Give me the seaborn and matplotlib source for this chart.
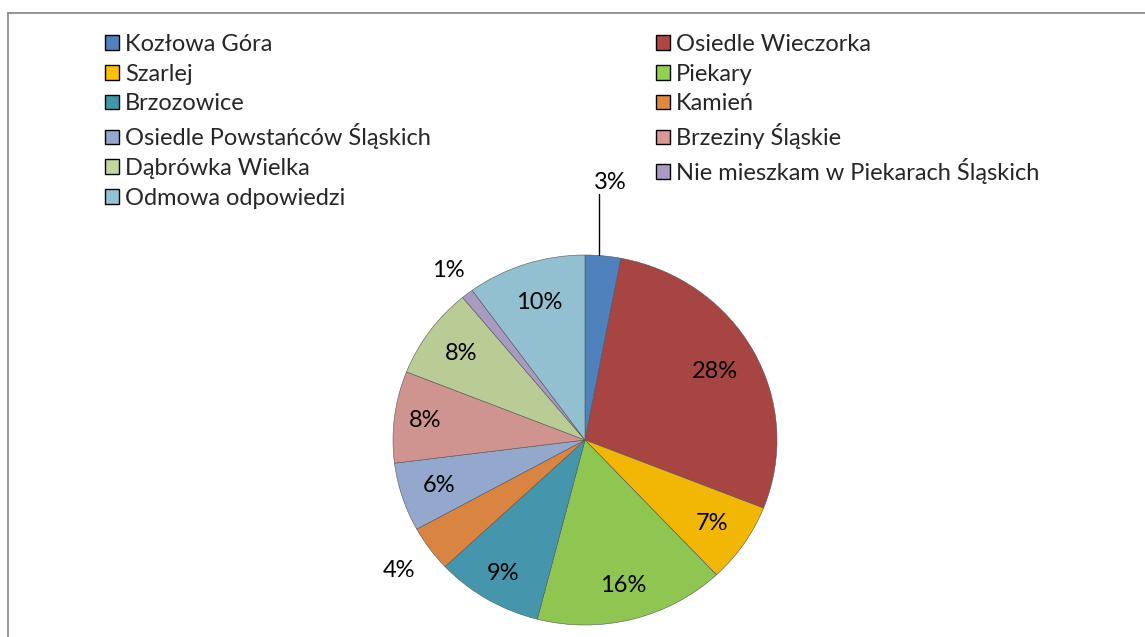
import numpy as np
import matplotlib
matplotlib.use("Agg")
import matplotlib.pyplot as plt
import seaborn as sns
from matplotlib.patches import Patch
from matplotlib.lines import Line2D

categories = ["Kozłowa Góra", "Osiedle Wieczorka", "Szarlej", "Piekary",
              "Brzozowice", "Kamień", "Osiedle Powstańców Śląskich",
              "Brzeziny Śląskie", "Dąbrówka Wielka",
              "Nie mieszkam w Piekarach Śląskich", "Odmowa odpowiedzi"]
shares = [3, 28, 7, 16, 9, 4, 6, 8, 8, 1, 10]
colors = ["#4F81BD", "#A64541", "#F2B705", "#8EC651", "#4596AC", "#D98440",
          "#93A8CC", "#CF9390", "#B9CC96", "#A89BC0", "#92C0D0"]
legend_colors = ["#4F81BD", "#B04545", "#FFC000", "#92D050", "#3F97AB", "#E08A3E",
                 "#93A8CC", "#D99694", "#C3D69B", "#A99BC4", "#93C4D4"]
# label distance (in radii) for each slice; small ones go outside
label_dist = [1.4, 0.77, 0.8, 0.81, 0.84, 1.2, 0.8, 0.84, 0.8, 1.16, 0.78]

sns.set_style("white")
plt.rcParams["font.family"] = ["Lato", "DejaVu Sans"]

W, H = 1145, 637
fig = plt.figure(figsize=(W / 100, H / 100), dpi=100)

# chart border (top and left visible)
fig.add_artist(Line2D([8 / W, 1.01], [1 - 13 / H, 1 - 13 / H], color="#8c8c8c", lw=1.3))
fig.add_artist(Line2D([8 / W, 8 / W], [-0.01, 1 - 13 / H], color="#8c8c8c", lw=1.3))

Rx, Ry = 192.0, 185.0
cx, cy = 585.0, 440.0
ax = fig.add_axes([0, 0, 1, 1])
ax.pie(shares, colors=colors, startangle=90, counterclock=False, radius=1,
       wedgeprops=dict(edgecolor="#555555", linewidth=0.4))
ax.set_aspect("auto")
ax.set_xlim(-cx / Rx, (W - cx) / Rx)
ax.set_ylim(-(H - cy) / Ry, cy / Ry)
ax.axis("off")

total = sum(shares)
start = 90.0
for v, d in zip(shares, label_dist):
    span = 360.0 * v / total
    mid = np.deg2rad(start - span / 2)
    start -= span
    x, y = d * np.cos(mid), d * np.sin(mid)
    ax.text(x, y, f"{v}%", ha="center", va="center", fontsize=17, color="black")

# leader line for the smallest top slice
mid0 = np.deg2rad(90 - 360.0 * shares[0] / total / 2)
ax.plot([np.cos(mid0) - 0.02, np.cos(mid0) - 0.02],
        [1.0, 1.33], color="black", lw=1)

handles = [Patch(facecolor=c, edgecolor="black", linewidth=1) for c in legend_colors]
kw = dict(frameon=False, fontsize=17, handlelength=0.58, handleheight=0.58,
          handletextpad=0.28, labelspacing=0.37, borderpad=0, borderaxespad=0)
fig.legend(handles[0::2], categories[0::2], loc="upper left",
           bbox_to_anchor=(105 / W, 1 - 34 / H), **kw)
fig.legend(handles[1::2], categories[1::2], loc="upper left",
           bbox_to_anchor=(656 / W, 1 - 34 / H), **kw)

fig.savefig("out.png", dpi=100)
